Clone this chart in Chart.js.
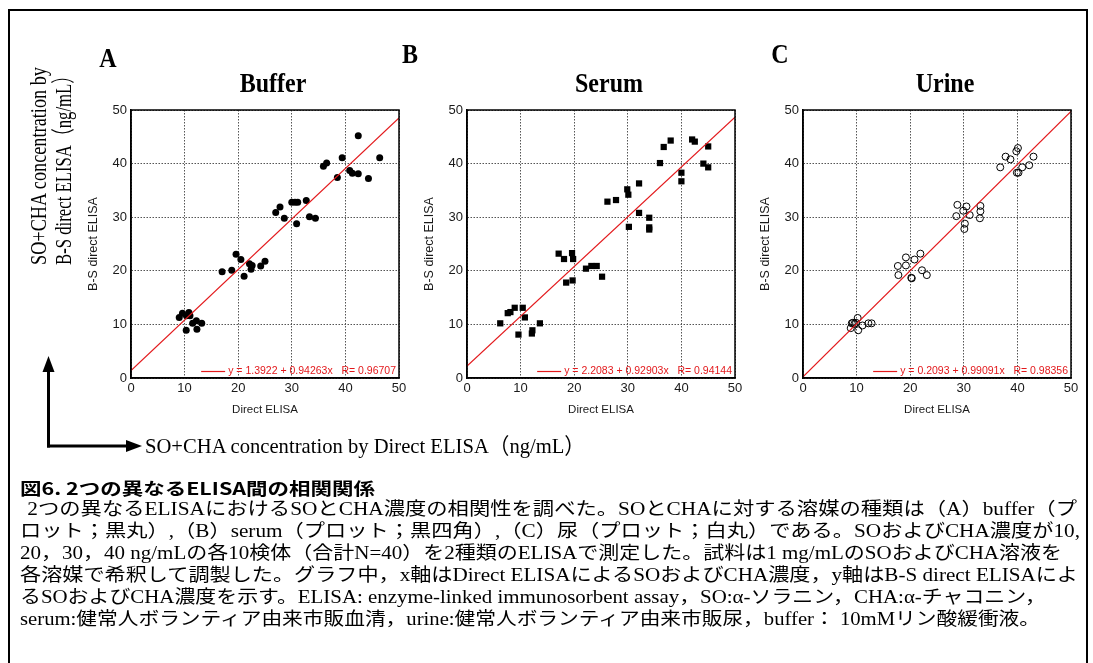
<!DOCTYPE html>
<html>
<head>
<meta charset="utf-8">
<script src="https://cdn.jsdelivr.net/npm/chart.js@4.4.1/dist/chart.umd.min.js"></script>
<style>
  html, body { margin: 0; padding: 0; background: #fff; }
  body { width: 1093px; height: 663px; position: relative; overflow: hidden; }
  #frame { position: absolute; left: 8px; top: 9px; width: 1080px; height: 720px;
           border: 2px solid #000; box-sizing: border-box; }
  canvas { position: absolute; }
  .txt { position: absolute; white-space: pre; color: #000; line-height: 1;
         font-family: "Liberation Serif", "Noto Sans CJK JP", serif; }
  .cap { font-family: "Liberation Serif", "Noto Sans CJK JP", sans-serif; font-size: 18px; transform-origin: 0 50%; }
  .capb { font-family: "Noto Sans CJK JP", sans-serif; font-weight: bold; font-size: 17px; transform-origin: 0 50%; }
  svg { position: absolute; left: 0; top: 0; }
</style>
</head>
<body>
<div id="frame"></div>

<canvas id="panelA" width="362" height="398" style="left:51px;top:30px"></canvas>
<canvas id="panelB" width="362" height="398" style="left:387px;top:30px"></canvas>
<canvas id="panelC" width="362" height="398" style="left:723px;top:30px"></canvas>

<svg width="1093" height="663">
  <line x1="48.5" y1="370" x2="48.5" y2="447.5" stroke="#000" stroke-width="3"/>
  <polygon points="48.5,356 42.5,372 54.5,372" fill="#000"/>
  <line x1="47" y1="446" x2="128" y2="446" stroke="#000" stroke-width="3"/>
  <polygon points="142,446 126,440 126,452" fill="#000"/>
</svg>

<div class="txt" id="yLab1" style="font-size:24px">SO+CHA concentration by</div>
<div class="txt" id="yLab2" style="font-size:24px">B-S direct ELISA（ng/mL）</div>
<div class="txt" id="xLab" style="font-size:22px">SO+CHA concentration by Direct ELISA（ng/mL）</div>

<div class="txt capb" id="cap0">図6. 2つの異なるELISA間の相関関係</div>
<div class="txt cap" id="cap1"> 2つの異なるELISAにおけるSOとCHA濃度の相関性を調べた。SOとCHAに対する溶媒の種類は（A）buffer（プ</div>
<div class="txt cap" id="cap2">ロット；黒丸）,（B）serum（プロット；黒四角）,（C）尿（プロット；白丸）である。SOおよびCHA濃度が10,</div>
<div class="txt cap" id="cap3">20，30，40 ng/mLの各10検体（合計N=40）を2種類のELISAで測定した。試料は1 mg/mLのSOおよびCHA溶液を</div>
<div class="txt cap" id="cap4">各溶媒で希釈して調製した。グラフ中，x軸はDirect ELISAによるSOおよびCHA濃度，y軸はB-S direct ELISAによ</div>
<div class="txt cap" id="cap5">るSOおよびCHA濃度を示す。ELISA: enzyme-linked immunosorbent assay，SO:α-ソラニン，CHA:α-チャコニン，</div>
<div class="txt cap" id="cap6">serum:健常人ボランティア由来市販血清，urine:健常人ボランティア由来市販尿，buffer： 10mMリン酸緩衝液。</div>

<script>
// Axis tick values shared by both axes of every panel
const axisTicks = [0, 10, 20, 30, 40, 50];

// Panel labels
const panelLetters = ['A', 'B', 'C'];
const panelTitles = ['Buffer', 'Serum', 'Urine'];

// (A) buffer: Direct ELISA (x) vs B-S direct ELISA (y), ng/mL
const bufferX = [9.0, 9.6, 10.35, 10.8, 11.0, 10.3, 11.5, 12.2, 12.3, 13.2,
                 17.0, 18.8, 19.6, 20.5, 21.1, 22.1, 22.6, 22.4, 24.2, 25.0,
                 27.0, 27.8, 28.6, 30.0, 30.6, 31.1, 30.9, 32.7, 33.3, 34.4,
                 35.9, 36.5, 38.5, 39.4, 40.8, 41.3, 42.4, 42.4, 44.3, 46.4];
const bufferY = [11.3, 12.1, 11.6, 12.2, 11.6, 8.9, 10.2, 10.7, 9.1, 10.2,
                 19.8, 20.1, 23.1, 22.1, 19.0, 21.3, 21.0, 20.3, 20.9, 21.8,
                 30.9, 31.9, 29.8, 32.8, 32.8, 32.8, 28.8, 33.1, 30.1, 29.8,
                 39.5, 40.1, 37.4, 41.1, 38.7, 38.2, 45.2, 38.1, 37.2, 41.1];

// (B) serum
const serumX = [6.2, 7.6, 8.1, 8.9, 10.4, 9.6, 10.8, 12.1, 12.2, 13.6,
                17.1, 18.1, 18.5, 19.6, 19.8, 19.7, 22.2, 23.2, 24.2, 25.2,
                26.2, 27.8, 29.9, 30.1, 30.2, 32.1, 32.1, 34.0, 34.0, 34.0,
                36.0, 36.7, 38.0, 40.0, 40.0, 42.0, 42.5, 45.0, 44.1, 45.0];
const serumY = [10.2, 12.1, 12.3, 13.1, 13.1, 8.1, 11.3, 8.3, 8.9, 10.2,
                23.2, 22.2, 17.8, 23.3, 22.2, 18.2, 20.4, 20.9, 20.9, 18.9,
                32.9, 33.2, 35.2, 34.2, 28.2, 36.3, 30.8, 29.9, 28.1, 27.7,
                40.1, 43.1, 44.3, 38.3, 36.7, 44.5, 44.1, 43.2, 40.0, 39.3];

// (C) urine
const urineX = [8.9, 9.1, 9.3, 9.6, 9.9, 10.2, 10.3, 11.1, 12.2, 12.8,
                17.7, 17.8, 19.2, 19.2, 20.2, 20.3, 20.8, 21.9, 22.2, 23.1,
                28.8, 28.6, 29.9, 30.2, 30.1, 30.5, 31.1, 33.1, 33.1, 33.0,
                36.8, 37.8, 38.7, 39.8, 40.1, 39.9, 40.2, 40.9, 42.2, 43.0];
const urineY = [9.3, 10.2, 10.3, 10.1, 10.3, 11.2, 8.9, 9.8, 10.2, 10.2,
                20.9, 19.2, 22.5, 21.0, 18.7, 18.6, 22.1, 23.2, 20.1, 19.2,
                32.3, 30.2, 31.2, 28.8, 27.8, 32.0, 30.4, 32.1, 31.1, 29.8,
                39.3, 41.3, 40.8, 42.3, 42.9, 38.3, 38.3, 39.3, 39.7, 41.3];

// Linear fits y = a + b x and correlation coefficients (A, B, C)
const fitIntercept = [1.3922, 2.2083, 0.2093];
const fitSlope = [0.94263, 0.92903, 0.99091];
const fitR = [0.96707, 0.94144, 0.98356];

const FIT_RED = '#e3191c';

function toPoints(xs, ys) { return xs.map((x, i) => ({ x: x, y: ys[i] })); }

// Frame around the plot area, panel letter, panel title and the fit legend
const panelDecor = {
  id: 'panelDecor',
  afterDraw(chart, args, opts) {
    const ctx = chart.ctx, a = chart.chartArea;
    ctx.save();
    ctx.strokeStyle = '#000';
    ctx.lineWidth = 1.5;
    ctx.strokeRect(a.left, a.top, a.right - a.left, a.bottom - a.top);

    ctx.fillStyle = '#000';
    ctx.font = 'bold 24px "Liberation Serif"';
    ctx.textAlign = 'center';
    ctx.textBaseline = 'alphabetic';
    const tall = (text, x, y) => {
      ctx.save(); ctx.translate(x, y); ctx.scale(1, 1.1); ctx.fillText(text, 0, 0); ctx.restore();
    };
    tall(opts.letter, a.left + opts.letterDx, a.top + opts.letterDy);
    tall(opts.title, (a.left + a.right) / 2 + 8, a.top - 18);

    // legend for the fit line
    const k = opts.index;
    const label = 'y = ' + fitIntercept[k] + ' + ' + fitSlope[k] + 'x   R= ' + fitR[k];
    ctx.font = '10.5px "Liberation Sans"';
    ctx.fillStyle = FIT_RED;
    ctx.textAlign = 'right';
    ctx.textBaseline = 'middle';
    const ty = a.bottom - 7;
    const tx = a.right - 3;
    ctx.fillText(label, tx, ty);
    const w = ctx.measureText(label).width;
    ctx.strokeStyle = FIT_RED;
    ctx.lineWidth = 1.2;
    ctx.beginPath();
    ctx.moveTo(tx - w - 27, ty + 0.5);
    ctx.lineTo(tx - w - 3, ty + 0.5);
    ctx.stroke();
    ctx.restore();
  }
};

function axis(titleText, isX) {
  return {
    type: 'linear',
    min: axisTicks[0],
    max: axisTicks[axisTicks.length - 1],
    afterBuildTicks: s => { s.ticks = axisTicks.map(v => ({ value: v })); },
    afterFit: s => { if (isX) s.height = 50; else s.width = 80; },
    ticks: {
      color: '#1a1a1a',
      font: { family: '"Liberation Sans"', size: 13 },
      padding: isX ? 3 : 4,
      maxRotation: 0
    },
    grid: { color: '#555', lineWidth: 1, drawTicks: false },
    border: { display: true, color: '#000', width: 1.5, dash: [1.5, 1.5] },
    title: {
      display: true,
      text: titleText,
      color: '#1a1a1a',
      font: { family: '"Liberation Sans"', size: isX ? 11.5 : 12.5 },
      padding: isX ? 11 : 35
    }
  };
}

function makePanel(id, k, xs, ys, pointStyle, filled, letterPos) {
  const x0 = axisTicks[0], x1 = axisTicks[axisTicks.length - 1];
  return new Chart(document.getElementById(id), {
    type: 'scatter',
    data: {
      datasets: [
        {
          label: panelTitles[k],
          data: toPoints(xs, ys),
          pointStyle: pointStyle,
          pointRadius: pointStyle === 'rect' ? 4.4 : 3.5,
          pointBackgroundColor: filled ? '#000' : 'rgba(0,0,0,0)',
          pointBorderColor: '#000',
          pointBorderWidth: filled ? 0 : 1,
          order: 1
        },
        {
          type: 'line',
          label: 'fit',
          data: [{ x: x0, y: fitIntercept[k] + fitSlope[k] * x0 },
                 { x: x1, y: fitIntercept[k] + fitSlope[k] * x1 }],
          borderColor: FIT_RED,
          borderWidth: 1.2,
          pointRadius: 0,
          fill: false,
          order: 0
        }
      ]
    },
    options: {
      responsive: false,
      animation: false,
      layout: { padding: { left: 0, top: 80, right: 14, bottom: 0 } },
      scales: {
        x: axis('Direct ELISA', true),
        y: axis('B-S direct ELISA', false)
      },
      plugins: {
        legend: { display: false },
        tooltip: { enabled: false },
        panelDecor: { index: k, letter: panelLetters[k], title: panelTitles[k],
                      letterDx: letterPos[0], letterDy: letterPos[1] }
      }
    },
    plugins: [panelDecor]
  });
}

makePanel('panelA', 0, bufferX, bufferY, 'circle', true, [-23, -43]);
makePanel('panelB', 1, serumX, serumY, 'rect', true, [-57, -47]);
makePanel('panelC', 2, urineX, urineY, 'circle', false, [-23, -47]);

// Place figure-level text: stretch each line along its length to the set span
function placeLine(id, left, cy, span) {
  const el = document.getElementById(id);
  el.style.transform = 'none';
  const r = el.getBoundingClientRect();
  el.style.left = left + 'px';
  el.style.top = (cy - r.height / 2) + 'px';
  el.style.transformOrigin = '0 50%';
  el.style.transform = 'scaleX(' + (span / r.width) + ')';
}
function placeRotated(id, cx, cy, span) {
  const el = document.getElementById(id);
  el.style.transform = 'none';
  const r = el.getBoundingClientRect();
  el.style.left = (cx - r.width / 2) + 'px';
  el.style.top = (cy - r.height / 2) + 'px';
  el.style.transformOrigin = '50% 50%';
  el.style.transform = 'rotate(-90deg) scaleX(' + (span / r.width) + ')';
}
function layoutText() {
  placeRotated('yLab1', 38, 166, 198);
  placeRotated('yLab2', 63, 166, 198);
  placeLine('xLab', 145, 446, 440);
  placeLine('cap0', 20, 487, 355);
  placeLine('cap1', 22, 509, 1055);
  placeLine('cap2', 20, 531, 1060);
  placeLine('cap3', 20, 553, 1042);
  placeLine('cap4', 20, 575, 1058);
  placeLine('cap5', 20, 597, 1026);
  placeLine('cap6', 20, 619, 1020);
}
layoutText();
if (document.fonts && document.fonts.ready) document.fonts.ready.then(layoutText);
</script>
</body>
</html>
